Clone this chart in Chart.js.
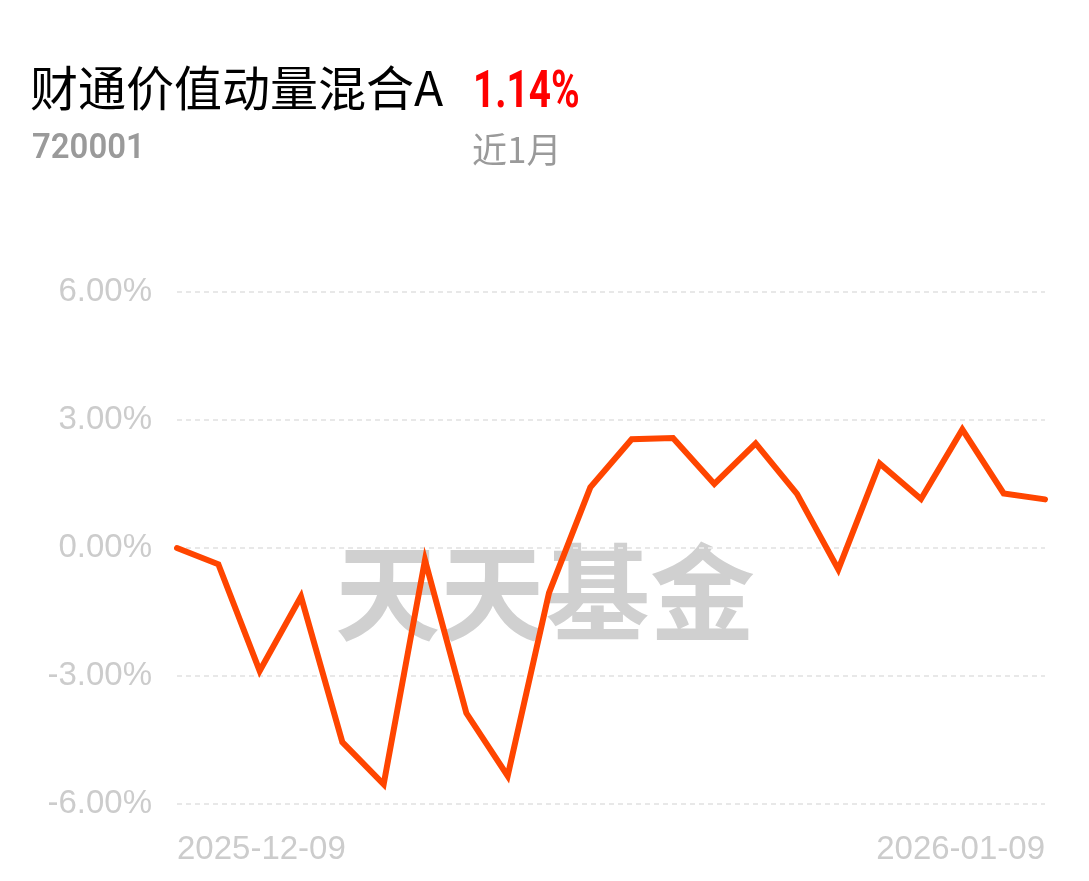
<!DOCTYPE html>
<html>
<head>
<meta charset="utf-8">
<script src="https://cdn.jsdelivr.net/npm/chart.js@4.4.1/dist/chart.umd.min.js"></script>
<style>
  html, body { margin: 0; padding: 0; background: #fff; }
  body { width: 1089px; height: 881px; position: relative; overflow: hidden; }
  #wrap { position: absolute; left: 0; top: 0; width: 1089px; height: 881px; }
  .t { position: absolute; white-space: nowrap; line-height: 1; }
  #title { left: 30px; top: 61px; font-family: "Noto Sans CJK SC", sans-serif; font-size: 48px; color: #000; font-weight: 400; }
  #ret { left: 473px; top: 64px; font-family: Roboto, sans-serif; font-weight: 700; font-size: 51px; color: #ff0000; transform: scaleX(0.76); transform-origin: left top; }
  #code { left: 32px; top: 129px; font-family: Roboto, sans-serif; font-weight: 600; font-size: 35px; color: #9a9a9a; transform: scaleX(0.94); transform-origin: left top; }
  #period { left: 472px; top: 130px; font-family: "Noto Sans CJK SC", sans-serif; font-size: 35px; color: #9a9a9a; font-weight: 400; }
</style>
</head>
<body>
<div id="wrap"><canvas id="c" width="1089" height="881"></canvas></div>
<div class="t" id="title">财通价值动量混合A</div>
<div class="t" id="ret">1.14%</div>
<div class="t" id="code">720001</div>
<div class="t" id="period">近1月</div>
<script>
const fundName = "财通价值动量混合A";
const fundCode = "720001";
const periodLabel = "近1月";
const periodReturn = "1.14%";
const watermarkText = "天天基金";

const dates = [
  "2025-12-09","2025-12-10","2025-12-11","2025-12-12","2025-12-15","2025-12-16",
  "2025-12-17","2025-12-18","2025-12-19","2025-12-22","2025-12-23","2025-12-24",
  "2025-12-25","2025-12-26","2025-12-29","2025-12-30","2025-12-31","2026-01-05",
  "2026-01-06","2026-01-07","2026-01-08","2026-01-09"
];
const returns = [
  0.00, -0.38, -2.88, -1.14, -4.55, -5.54, -0.28, -3.87, -5.34, -1.05, 1.42,
  2.55, 2.58, 1.50, 2.45, 1.27, -0.50, 1.98, 1.15, 2.78, 1.28, 1.14
];
const yTicks = [-6, -3, 0, 3, 6];

const watermark = {
  id: 'watermark',
  beforeDraw(chart) {
    const ctx = chart.ctx;
    ctx.save();
    ctx.font = '700 105px "Noto Sans CJK SC"';
    ctx.fillStyle = '#d0d0d0';
    ctx.textAlign = 'left';
    ctx.textBaseline = 'middle';
    ctx.fillText(watermarkText, 335, 592);
    ctx.restore();
  }
};

new Chart(document.getElementById('c'), {
  type: 'line',
  data: {
    labels: dates,
    datasets: [{
      data: returns,
      borderColor: '#ff4500',
      borderWidth: 6,
      pointRadius: 0,
      tension: 0,
      borderCapStyle: 'round',
      fill: false
    }]
  },
  options: {
    responsive: false,
    animation: false,
    events: [],
    layout: { padding: { left: 0, right: 44, top: 292, bottom: 0 } },
    plugins: { legend: { display: false }, tooltip: { enabled: false } },
    scales: {
      x: {
        offset: false,
        border: { display: false },
        grid: { display: false, drawTicks: false },
        afterFit(s) { s.height = 77; },
        ticks: {
          autoSkip: false,
          maxRotation: 0,
          minRotation: 0,
          align: 'inner',
          padding: 26,
          color: '#cccccc',
          font: { family: '"Liberation Sans", Arial, sans-serif', size: 33 },
          callback(v, i) { return (i === 0 || i === dates.length - 1) ? dates[i] : ''; }
        }
      },
      y: {
        min: -6,
        max: 6,
        border: { display: false, dash: [5, 4] },
        afterFit(s) { s.width = 177; },
        afterBuildTicks(s) { s.ticks = yTicks.map(v => ({ value: v })); },
        grid: { color: '#e8e8e8', lineWidth: 2, drawTicks: false },
        ticks: {
          padding: 25,
          color: '#cccccc',
          font: { family: '"Liberation Sans", Arial, sans-serif', size: 33 },
          callback(v) { return v.toFixed(2) + '%'; }
        }
      }
    }
  },
  plugins: [watermark]
});
</script>
</body>
</html>
